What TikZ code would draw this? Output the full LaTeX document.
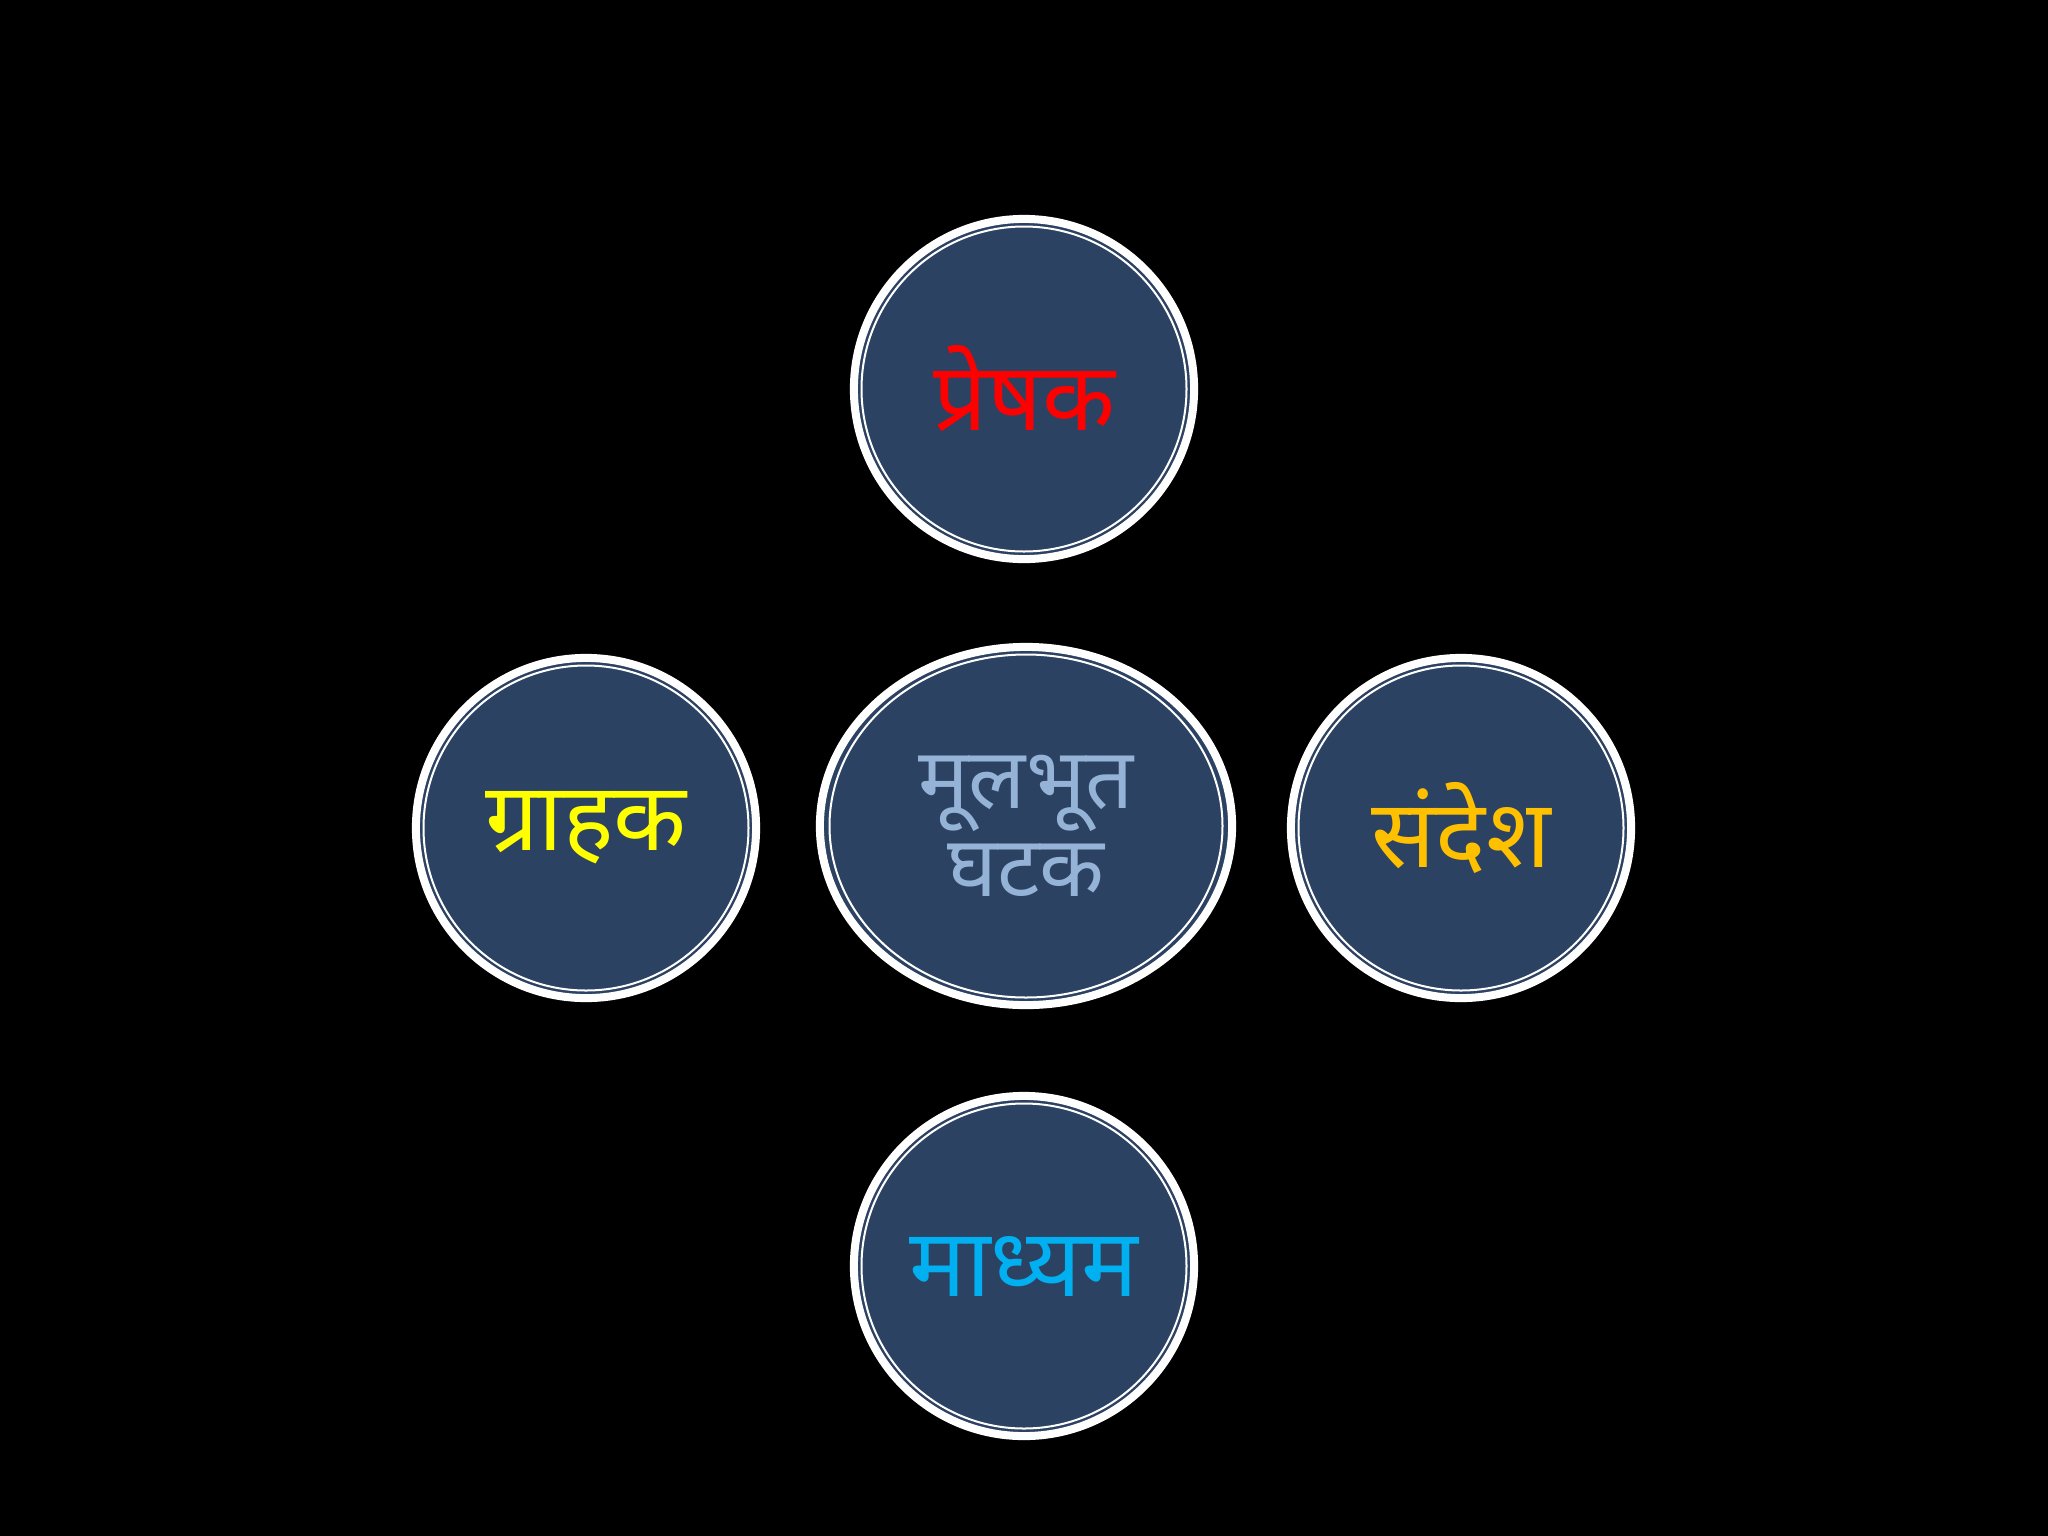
\documentclass[tikz,border=0pt]{standalone}
\usepackage{fontspec}
\newfontfamily\deva[Script=Devanagari]{Noto Sans}
\usetikzlibrary{shapes.geometric}
\definecolor{navy}{RGB}{44,66,98}
\definecolor{txtred}{RGB}{255,0,0}
\definecolor{txtyellow}{RGB}{255,255,0}
\definecolor{txtgold}{RGB}{255,192,0}
\definecolor{txtcyan}{RGB}{0,176,240}
\definecolor{txtlight}{RGB}{149,179,215}
\tikzset{
  bubble/.style={circle, fill=navy, draw=white, line width=2.28pt, minimum size=3.40cm, inner sep=0pt, font=\deva\fontsize{27}{32}\selectfont},
  centerbubble/.style={ellipse, fill=navy, draw=white, line width=2.28pt, minimum width=4.12cm, minimum height=3.58cm, inner sep=0pt, align=center, font=\deva\fontsize{24}{25}\selectfont},
  innerring/.style={draw=white, line width=0.57pt}
}
\begin{document}
\begin{tikzpicture}[x=0.01cm, y=-0.01cm]
\fill[black] (0,0) rectangle (2048,1536);
\useasboundingbox (0,0) rectangle (2048,1536);
\node[bubble, text=txtred] (sender) at (1024,389) {प्रेषक};
\node[bubble, text=txtyellow] (receiver) at (586,828) {ग्राहक};
\node[bubble, text=txtgold] (message) at (1461,828) {संदेश};
\node[bubble, text=txtcyan] (medium) at (1024,1266) {माध्यम};
\node[centerbubble, text=txtlight] (core) at (1026,826) {मूलभूत\\घटक};
\foreach \n in {sender,receiver,message,medium}
  \draw[innerring] (\n.center) circle (162.5);
\draw[innerring] (core.center) ellipse [x radius=196.5, y radius=171.5];
\end{tikzpicture}
\end{document}
